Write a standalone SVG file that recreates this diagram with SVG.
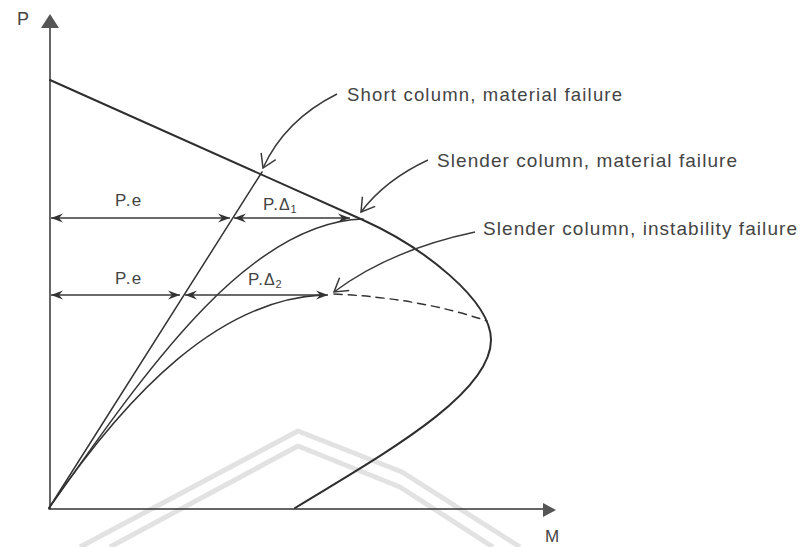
<svg xmlns="http://www.w3.org/2000/svg" width="800" height="547" viewBox="0 0 800 547">
<style>
.ln{fill:none;stroke:#333;stroke-width:1.5;stroke-linecap:round}
.main{fill:none;stroke:#2e2e2e;stroke-width:2;stroke-linecap:round;stroke-linejoin:round}
.dim{fill:none;stroke:#3a3a3a;stroke-width:1.5;marker-start:url(#barb);marker-end:url(#barb)}
.call{fill:none;stroke:#3a3a3a;stroke-width:1.4;marker-end:url(#vee)}
.t{font-family:"Liberation Sans",Arial,sans-serif;fill:#444}
.wm{fill:none;stroke:#e2e2e2;stroke-width:5;stroke-linejoin:round}
</style>
<defs>
<marker id="barb" viewBox="-13 -6 14 12" refX="0" refY="0" markerWidth="14" markerHeight="12" markerUnits="userSpaceOnUse" orient="auto-start-reverse">
<path d="M0,0 L-12,-4.5 L-8,0 L-12,4.5 Z" fill="#333"/>
</marker>
<marker id="vee" viewBox="-16 -10 18 20" refX="0" refY="0" markerWidth="18" markerHeight="20" markerUnits="userSpaceOnUse" orient="auto">
<path d="M-13,-8 L0,0 L-13,8" fill="none" stroke="#3a3a3a" stroke-width="1.5"/>
</marker>
</defs>
<rect width="800" height="547" fill="#fff"/>
<g id="watermark">
<path class="wm" d="M80,547 L298,431 L402,472 L520,547"/>
<path class="wm" d="M110,547 L298,446 L400,487 L493,547"/>
</g>
<g id="axes">
<line class="ln" x1="50" y1="509" x2="50" y2="27"/>
<polygon points="50,14 41,28 59,28" fill="#555"/>
<line class="ln" x1="49" y1="509" x2="544" y2="509"/>
<polygon points="556,510 543,503 543,517" fill="#555"/>
<text class="t" x="17" y="25" font-size="18">P</text>
<text class="t" x="545" y="542" font-size="17">M</text>
</g>
<g id="interaction-curve">
<path class="main" d="M50,80 L363,220 C423,247 491,300 491,340 C491,395 380,456 295,508"/>
</g>
<g id="short-column">
<path class="ln" d="M49,508 L262,172"/>
</g>
<g id="slender-material">
<path class="ln" d="M49,508 C140,380 245,222 363,219"/>
</g>
<g id="slender-instability">
<path class="ln" d="M49,508 C130,390 220,300 322,295"/>
<path class="ln" d="M334,294 Q420,298 487,321" stroke-dasharray="8,6"/>
</g>
<g id="connectors">
<line class="dim" x1="51" y1="218" x2="230" y2="218"/>
<line class="dim" x1="234" y1="218" x2="350" y2="218"/>
<line class="dim" x1="51" y1="295" x2="180" y2="295"/>
<line class="dim" x1="185" y1="295" x2="328" y2="295"/>
<path class="call" d="M337,94 Q285,120 263,168"/>
<path class="call" d="M428,160 Q385,180 361,212"/>
<path class="call" d="M475,232 Q390,250 334,292"/>
</g>
<g id="labels">
<text class="t" x="115" y="206" font-size="17" letter-spacing="1.5">P.e</text>
<text class="t" x="263" y="210" font-size="17" letter-spacing="1">P.<tspan font-size="16">Δ</tspan><tspan font-size="11" dy="3">1</tspan></text>
<text class="t" x="115" y="284" font-size="17" letter-spacing="1.5">P.e</text>
<text class="t" x="248" y="285" font-size="17" letter-spacing="1">P.<tspan font-size="16">Δ</tspan><tspan font-size="11" dy="3">2</tspan></text>
<text class="t" x="347" y="101" font-size="18.5" textLength="275" lengthAdjust="spacing">Short column, material failure</text>
<text class="t" x="437" y="167" font-size="19" textLength="300" lengthAdjust="spacing">Slender column, material failure</text>
<text class="t" x="483" y="235" font-size="19" textLength="314" lengthAdjust="spacing">Slender column, instability failure</text>
</g>
</svg>
